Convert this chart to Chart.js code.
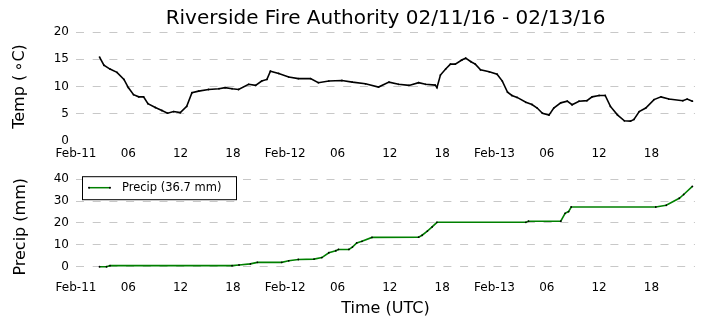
<!DOCTYPE html>
<html>
<head>
<meta charset="utf-8">
<script src="https://cdn.jsdelivr.net/npm/chart.js@4.4.0/dist/chart.umd.min.js"></script>
<style>
  html, body { margin: 0; padding: 0; background: #fff; }
  #wrap { position: relative; width: 705px; height: 328px; }
  #tempChart { position: absolute; left: 0; top: 0; }
  #precipChart { position: absolute; left: 0; top: 165px; }
</style>
</head>
<body>
<div id="wrap">
  <canvas id="tempChart" width="705" height="165" style="width:705px;height:165px"></canvas>
  <canvas id="precipChart" width="705" height="163" style="width:705px;height:163px"></canvas>
</div>
<script>
// Hours since Feb-11 00:00 UTC
const chartTitle = 'Riverside Fire Authority 02/11/16 - 02/13/16';
const xTickHours = [0, 6, 12, 18, 24, 30, 36, 42, 48, 54, 60, 66];
const xTickLabels = ['Feb-11', '06', '12', '18', 'Feb-12', '06', '12', '18', 'Feb-13', '06', '12', '18'];

// Temperature (deg C)
const tempHours = [2.7, 3.2, 3.9, 4.7, 5.5, 6.0, 6.6, 7.2, 7.75, 8.25, 9.1, 9.85, 10.5, 11.2, 11.96,
    12.7, 13.3, 14.06, 15.2, 16.4, 17.1, 17.9, 18.65, 19.8, 20.6, 21.3, 21.9, 22.3, 23.25, 24.4,
    25.5, 26.9, 27.8, 29.0, 30.5, 31.7, 33.2, 34.7, 35.9, 37.0, 38.2, 39.3, 40.1, 41.2, 41.4,
    41.8, 42.4, 42.95, 43.5, 44.3, 44.7, 45.3, 45.8, 46.4, 47.4, 48.3, 48.9, 49.5, 50.0, 50.6,
    51.6, 52.3, 52.9, 53.5, 54.25, 54.8, 55.6, 56.35, 56.9, 57.7, 58.6, 59.2, 60.0, 60.7, 61.3,
    62.1, 62.9, 63.6, 64.0, 64.6, 65.35, 66.3, 67.1, 68.0, 69.6, 70.1, 70.7];
const tempValues = [15.4, 13.9, 13.2, 12.6, 11.3, 9.8, 8.5, 8.1, 8.1, 6.85, 6.15, 5.6, 5.1, 5.4, 5.2,
    6.35, 8.85, 9.15, 9.45, 9.6, 9.8, 9.6, 9.45, 10.4, 10.2, 11.0, 11.3, 12.8, 12.4, 11.75,
    11.45, 11.45, 10.7, 11.0, 11.1, 10.8, 10.5, 9.9, 10.8, 10.4, 10.2, 10.7, 10.4, 10.25, 9.8,
    12.1, 13.2, 14.1, 14.1, 14.9, 15.2, 14.55, 14.1, 13.05, 12.7, 12.25, 11.0, 8.95, 8.35, 8.0,
    7.1, 6.7, 6.05, 5.1, 4.75, 6.05, 7.0, 7.3, 6.65, 7.3, 7.4, 8.1, 8.35, 8.35, 6.35,
    4.8, 3.7, 3.65, 3.95, 5.4, 6.05, 7.6, 8.1, 7.7, 7.4, 7.7, 7.3];

// Accumulated precipitation (mm)
const precipHours = [2.7, 3.5, 3.9, 17.9, 18.7, 20.0, 20.8, 23.6, 24.4, 25.5, 27.3, 28.2, 29.0, 29.8,
    30.1, 31.3, 31.7, 32.2, 32.8, 33.95, 39.3, 39.7, 40.3, 40.85, 41.4, 51.6, 51.9, 55.6, 56.1,
    56.5, 56.8, 66.5, 67.7, 69.2, 69.7, 70.7];
const precipValues = [0, 0, 0.5, 0.5, 0.8, 1.3, 2.0, 2.0, 2.7, 3.3, 3.5, 4.2, 6.4, 7.3,
    7.9, 7.9, 9.0, 10.9, 11.6, 13.4, 13.5, 14.4, 16.3, 18.2, 20.3, 20.3, 20.8, 20.8, 24.4,
    25.2, 27.3, 27.3, 28.1, 31.3, 33.0, 36.7];
const precipLabel = 'Precip (36.7 mm)';

const font = "'DejaVu Sans', sans-serif";
const gridColor = '#c8c8c8';

function toXY(xs, ys) {
    return xs.map((x, i) => ({ x: x, y: ys[i] }));
}

function xScale(height, withTitle) {
    return {
        type: 'linear',
        min: 0,
        max: 71,
        afterBuildTicks: (s) => { s.ticks = xTickHours.map(v => ({ value: v })); },
        afterFit: (s) => { s.height = height; },
        grid: { display: false, drawTicks: false },
        border: { display: false },
        ticks: {
            padding: 6,
            maxRotation: 0,
            autoSkip: false,
            color: '#000',
            font: { family: font, size: 12 },
            callback: (v) => {
                const i = xTickHours.indexOf(v);
                return i >= 0 ? xTickLabels[i] : '';
            }
        },
        title: {
            display: withTitle,
            text: 'Time (UTC)',
            color: '#000',
            font: { family: font, size: 16 },
            padding: { top: 0, bottom: 10 }
        }
    };
}

// title drawn over the plot area centre, like the original
const titlePlugin = {
    id: 'panelTitle',
    afterDraw(chart) {
        const { ctx, chartArea } = chart;
        ctx.save();
        ctx.font = "20px 'DejaVu Sans', sans-serif";
        ctx.fillStyle = '#000';
        ctx.textAlign = 'center';
        ctx.textBaseline = 'middle';
        ctx.fillText(chartTitle, (chartArea.left + chartArea.right) / 2, 19);
        ctx.restore();
    }
};

// boxed legend inside the plot area, top left
const boxLegend = {
    id: 'boxLegend',
    afterDraw(chart) {
        const { ctx, chartArea } = chart;
        const ds = chart.data.datasets[0];
        const x0 = chartArea.left + 6, y0 = chartArea.top - 3;
        const w = 154, h = 23;
        ctx.save();
        ctx.fillStyle = '#fff';
        ctx.fillRect(x0, y0, w, h);
        ctx.strokeStyle = '#000';
        ctx.lineWidth = 1;
        ctx.strokeRect(x0 + 0.5, y0 + 0.5, w, h);
        const ly = y0 + 11.5;
        ctx.strokeStyle = ds.borderColor;
        ctx.lineWidth = 1.5;
        ctx.beginPath();
        ctx.moveTo(x0 + 7, ly);
        ctx.lineTo(x0 + 28, ly);
        ctx.stroke();
        ctx.fillStyle = '#000';
        [x0 + 7, x0 + 28].forEach(px => {
            ctx.beginPath();
            ctx.arc(px, ly, 1, 0, Math.PI * 2);
            ctx.fill();
        });
        ctx.font = "11.5px 'DejaVu Sans', sans-serif";
        ctx.textBaseline = 'middle';
        ctx.fillText(ds.label, x0 + 40, ly + 0.5);
        ctx.restore();
    }
};

new Chart(document.getElementById('tempChart'), {
    type: 'line',
    data: {
        datasets: [{
            label: 'Temp',
            data: toXY(tempHours, tempValues),
            borderColor: '#000',
            borderWidth: 1.6,
            pointRadius: 0.9,
            pointBackgroundColor: '#000',
            pointBorderWidth: 0,
            tension: 0
        }]
    },
    options: {
        responsive: false,
        animation: false,
        layout: { padding: { top: 32, right: 10, left: 0, bottom: 0 } },
        plugins: { legend: { display: false }, tooltip: { enabled: false } },
        scales: {
            x: xScale(24, false),
            y: {
                min: 0,
                max: 20,
                afterFit: (s) => { s.width = 76; },
                ticks: { stepSize: 5, padding: 7, color: '#000', font: { family: font, size: 12 } },
                grid: {
                    drawTicks: false,
                    color: (c) => (c.tick && c.tick.value === 0 ? 'rgba(0,0,0,0)' : gridColor)
                },
                border: { display: false, dash: [8, 8.7] },
                title: {
                    display: true,
                    text: 'Temp (\u2009\u2218C)',
                    color: '#000',
                    font: { family: font, size: 16 },
                    padding: { top: 10, bottom: 0 }
                }
            }
        }
    },
    plugins: [titlePlugin]
});

new Chart(document.getElementById('precipChart'), {
    type: 'line',
    data: {
        datasets: [{
            label: precipLabel,
            data: toXY(precipHours, precipValues),
            borderColor: '#008000',
            borderWidth: 1.6,
            pointRadius: 0.9,
            pointBackgroundColor: '#000',
            pointBorderWidth: 0,
            tension: 0
        }]
    },
    options: {
        responsive: false,
        animation: false,
        layout: { padding: { top: 8.3, right: 10, left: 0, bottom: 0 } },
        plugins: { legend: { display: false }, tooltip: { enabled: false } },
        scales: {
            x: xScale(53.6, true),
            y: {
                min: -3.5,
                max: 40,
                afterBuildTicks: (s) => { s.ticks = [0, 10, 20, 30, 40].map(v => ({ value: v })); },
                afterFit: (s) => { s.width = 76; },
                ticks: { padding: 7, color: '#000', font: { family: font, size: 12 } },
                grid: { drawTicks: false, color: gridColor },
                border: { display: false, dash: [8, 8.7] },
                title: {
                    display: true,
                    text: 'Precip (mm)',
                    color: '#000',
                    font: { family: font, size: 16 },
                    padding: { top: 11, bottom: 0 }
                }
            }
        }
    },
    plugins: [boxLegend]
});
</script>
</body>
</html>
